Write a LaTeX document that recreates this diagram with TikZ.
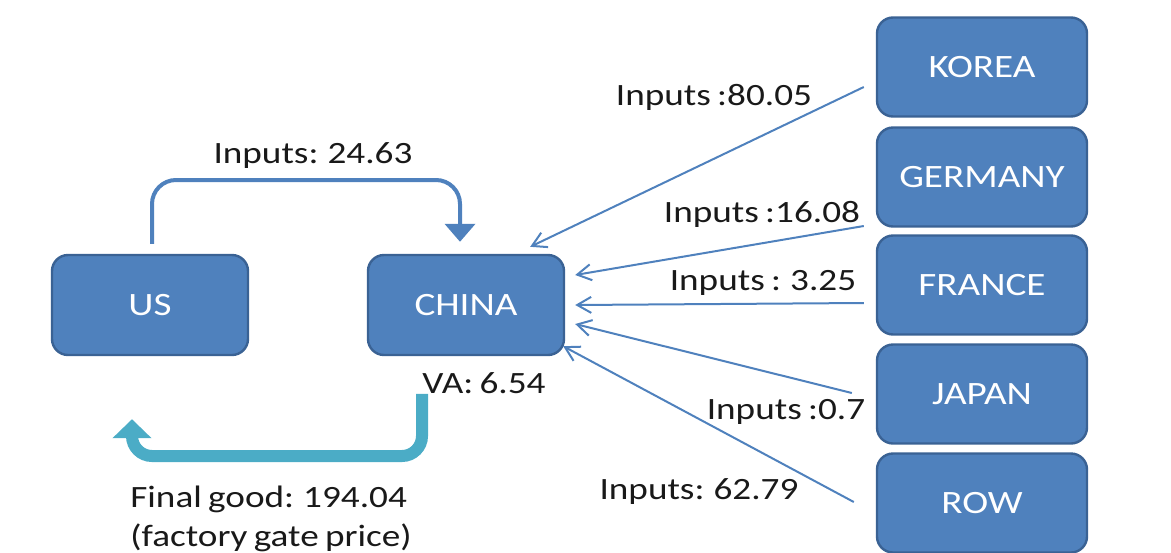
\documentclass[tikz,border=0pt]{standalone}
\usepackage{fontspec}
\setmainfont[FakeStretch=1.2, WordSpace=0.75]{Carlito}
\usetikzlibrary{arrows.meta}
\definecolor{boxblue}{HTML}{4F81BD}
\definecolor{boxedge}{HTML}{3A6294}
\definecolor{flowteal}{HTML}{4BACC6}
\tikzset{
  land/.style={draw=boxedge, line width=1.2pt, fill=boxblue, rounded corners=8pt,
    text=white, minimum width=98pt, minimum height=50pt, font=\fontsize{16.3}{18}\selectfont},
  supplier/.style={land, minimum width=105pt, minimum height=49.5pt},
  amount/.style={text=black!90, font=\fontsize{15.5}{18}\selectfont, inner sep=0pt},
  inflow/.style={draw=boxblue, line width=1pt, -{Straight Barb[length=7pt,width=8pt]}}
}
\begin{document}
\begin{tikzpicture}[x=0.5pt, y=-0.5pt]
  \useasboundingbox (0,0) rectangle (1171,552);
  \node[land] (us) at (150,305) {US};
  \node[land] (china) at (466,305) {CHINA};
  \node[supplier] (korea) at (982,67) {KOREA};
  \node[supplier] (germany) at (982,177) {GERMANY};
  \node[supplier] (france) at (982,285) {FRANCE};
  \node[supplier] (japan) at (982,394) {JAPAN};
  \node[supplier] (row) at (982,503) {ROW};
  % labels
  \node[amount] (lkorea) at (714,97) {Inputs :80.05};
  \node[amount] (lus) at (313,156) {Inputs: 24.63};
  \node[amount] (lgermany) at (762,214) {Inputs :16.08};
  \node[amount] (lfrance) at (763,283) {Inputs : 3.25};
  \node[amount] (va) at (484,383) {VA: 6.54};
  \node[amount] (ljapan) at (786,412) {Inputs :0.7};
  \node[amount] (lrow) at (699,492) {Inputs: 62.79};
  \node[amount, anchor=north west, align=left, font=\fontsize{15.5}{19.5}\selectfont]
    (final) at (130,486) {Final good: 194.04\\(factory gate price)};
  % US to China
  \draw[boxblue, line width=2pt, rounded corners=12pt, -{Triangle[width=15pt,length=9pt]}]
    ([shift={(2,-10)}]us.north) |- (460,180) -- ([shift={(-6,-12)}]china.north);
  % final good back to US
  \coordinate (back) at ([shift={(-18,63)}]us.south);
  \draw[flowteal, line width=6pt, rounded corners=10pt, -{Triangle[width=19pt,length=9.5pt]}]
    ([shift={(-62,0)}]va.south) |- (300,456) -| (back);
  % suppliers to China
  \begin{scope}[inflow]
    \draw ([shift={(-12,20)}]korea.west) to ([shift={(-35,-7)}]china.north east);
    \draw ([shift={(-12,49)}]germany.west) to ([shift={(10,-30)}]china.east);
    \draw ([shift={(-12,18)}]france.west) to ([shift={(10,0)}]china.east);
    \draw ([shift={(-24,-1)}]japan.west) to ([shift={(10,19)}]china.east);
    \draw ([shift={(-22,-1)}]row.west) to ([shift={(-2,-10)}]china.south east);
  \end{scope}
\end{tikzpicture}
\end{document}
